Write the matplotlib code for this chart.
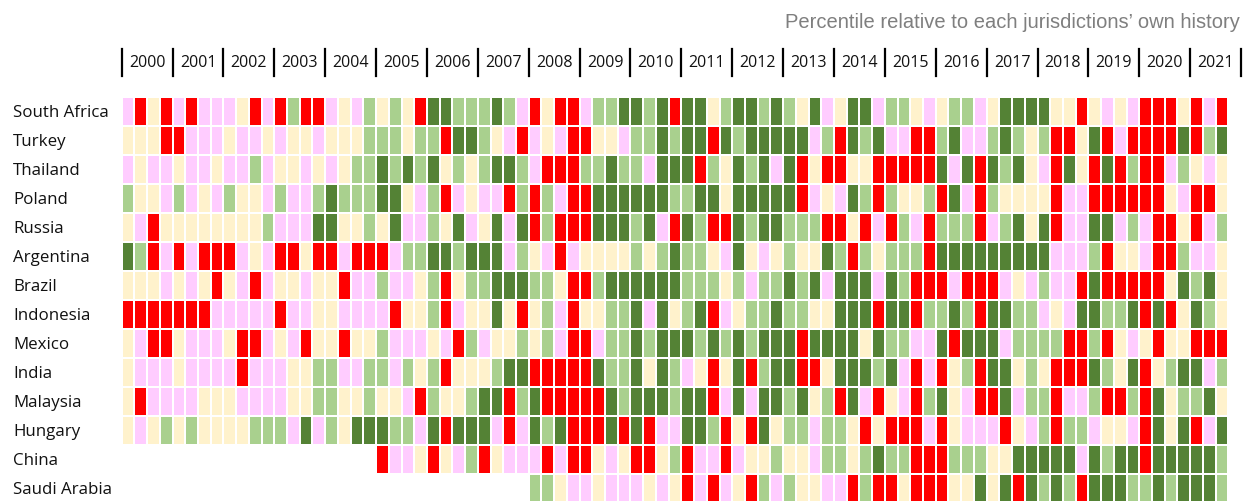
import matplotlib
matplotlib.use("Agg")
import matplotlib.pyplot as plt
import matplotlib.transforms as mtransforms
from matplotlib.colors import ListedColormap
import numpy as np

countries = ["South Africa", "Turkey", "Thailand", "Poland", "Russia", "Argentina", "Brazil",
             "Indonesia", "Mexico", "India", "Malaysia", "Hungary", "China", "Saudi Arabia"]
years = list(range(2000, 2022))

# one letter per quarter, grouped by year (2000 .. 2021Q3)
# P = pink, Y = cream, L = light green, G = dark green, R = red, . = no data
quarters = [
    "PRYR PRPP PYRP RLRR PYPL YLYR GGLL LGLP RYRR PLLG GLGR GGYL GGLG LYGP YGGP LLYP YLLP YGGG GYYR YPYP RRRY RPR",
    "YYYR RPPP YPPY PYYP YYYL LLYL LRGG LYPR PYPR RYYP LLGL GGRG LGGG GGPL RGLG PPRR LGPP LGLY LRRY GRPR RRRG RLG",
    "PYPP YPPY PPLP YYPY PYLL GLGL GYLY LGGL PRRR LLGL LPGG GRLY GLGP GRYR RYYR RRRR GPGR GLGY PRGY RGRL RRPL YPY",
    "LYYP LPYP LYYP LPPL GLLL GGYP LRPY PPRL RLPR RGGG GGGL LGGY GGGG GRPY PGLR LYYL RGPR LYYY YRPP RRRR RRYP RRY",
    "YPRY YYYY YYYL PPPG GYYL YGPP LYGP YGPG RLRR RGGG LGPR GLRR GLGG LLLR RYRP RLPR LLLR PLGY GRPP GGPL PRRY RPL",
    "GLRP RPRR RPYP RRYR RPRR RPLL GGLG GGPL YPRP YYYY LYLG LLYP GYPY LYYG LRLY LLLR GGGG GGGG GPPP LRYY PRRL PPY",
    "YYYP YPYR YPRP YYPY YRPP LPPY LRYL LGGG LLYR RLGG GGGG LLLY LPLL GLGP GGGP GLRR RPRR RPYP LPPR GRRR RRYG LGY",
    "RRRR RRRP PPPP RPPY YPPP PRYY LRPY YGYR YLPR YYLL GPGY LGRP YLLG LLYY GGGR GGRL LGLR GGLL PYPG GLLG RGRY GLY",
    "YPRR YPPP YRRP YPRY YRYY LPPP YPRL PYYL YLPR RPLL GLGG GLGL GLGG GRGG GGYG LLPP GRGG GPLL LLRR LRYP YRYY RRR",
    "YPPP YPPP PRPP PYYL LPPL LPLY LRYY YLGG RRRR RGLL GYGL PYRY GRLG GRRY GGGL GPRP RYLR GGYL YRRR GLYG RYLG GPL",
    "YRPP PPYY YPPP PYYL LYYL YYPR LYYL GGRL GRRR RRGL GGGL GGRP GPGG LGYL RGPR YPRL GYPR RGPL LRPP LRRL RGYL LGY",
    "YPYL YLYY YYLL LPGP LYGG GLLP GRGG GPRP GLGR RRGR GRPP GGLR YRGY LLPL LYRY RRRP RYPP PRYP LRLL PYYP RGYG RPG",
    ".... .... .... .... .... RPPY RYPL RYPP PRPR RYPY RRYL RPPR PYYL YYPL LYLG LLRR RLLL YYGG GGGP GLGG RGGG GGL",
    ".... .... .... .... .... .... .... .... LLYP PYPP PYPY RPRP YRLP LYYP PRLR RYRR RYYG YGRG LGLR GGGL LGLG GGL",
]

levels = ["P", "Y", "L", "G", "R"]
colours = ["#ffccff", "#fff2cc", "#a9d08e", "#548235", "#ff0000"]

grid = []
for row in quarters:
    s = row.replace(" ", "")
    grid.append([levels.index(c) if c in levels else np.nan for c in s])
grid = np.ma.masked_invalid(np.array(grid, dtype=float))
ncol = grid.shape[1]

W, H = 1244, 501
fig = plt.figure(figsize=(W / 100, H / 100), dpi=100)
ax = fig.add_axes([121.7 / W, -1.5 / H, (1228.3 - 121.7) / W, 406 / H])

ax.pcolormesh(np.arange(ncol + 1) - 0.5, np.arange(len(countries) + 1) - 0.5, grid,
              cmap=ListedColormap(colours), vmin=-0.5, vmax=4.5,
              edgecolors="white", linewidth=1.3)
ax.set_xlim(-0.5, ncol - 0.5)
ax.set_ylim(len(countries) - 0.5, -0.5)
for s in ax.spines.values():
    s.set_visible(False)
ax.set_xticks([])
ax.set_yticks(range(len(countries)))
ax.set_yticklabels(countries, fontsize=12.2, family="Open Sans", color="#111111")
ax.tick_params(axis="y", length=0, pad=(121.7 - 13) * 0.72)
for lbl in ax.get_yticklabels():
    lbl.set_horizontalalignment("left")

# year header
tr = mtransforms.blended_transform_factory(ax.transData, fig.transFigure)
for k in range(len(years) + 1):
    x = 4 * k - 0.5
    ax.plot([x, x], [1 - 49 / H, 1 - 76 / H], color="black", lw=1.6,
            transform=tr, clip_on=False)
for k, y in enumerate(years):
    ax.text(4 * k + 1.5, 1 - 63 / H, str(y), transform=tr, ha="center", va="center",
            fontsize=11.5, family="Open Sans", color="#111111")

fig.text(1240 / W, 1 - 22 / H, "Percentile relative to each jurisdictions\u2019 own history",
         ha="right", va="center", fontsize=14.5, family="Liberation Sans", color="#7f7f7f")

fig.savefig("out.png", dpi=100)
